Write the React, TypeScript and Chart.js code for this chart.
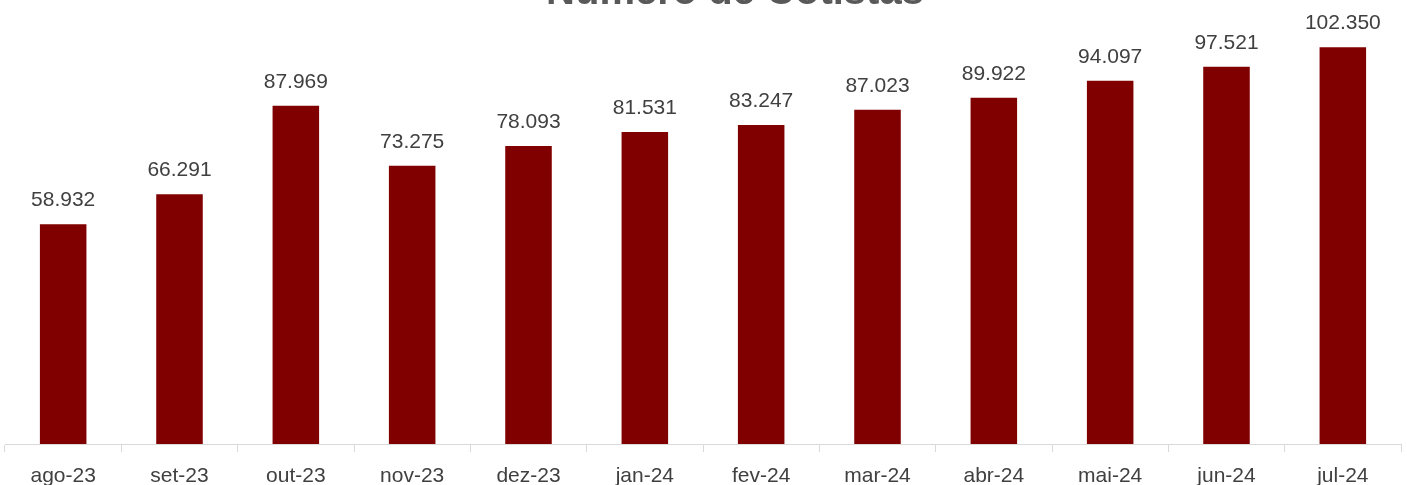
import React, { useEffect, useRef } from "react";
import { Chart, registerables } from "chart.js";

Chart.register(...registerables);

const categories = ["ago-23", "set-23", "out-23", "nov-23", "dez-23", "jan-24", "fev-24", "mar-24", "abr-24", "mai-24", "jun-24", "jul-24"];
const cotistas = [58932, 66291, 87969, 73275, 78093, 81531, 83247, 87023, 89922, 94097, 97521, 102350];
const titleText = "Número de Cotistas";

const FONT = "'Liberation Sans', Arial, sans-serif";

function fmt(v: number): string {
  return v.toLocaleString("pt-BR").replace(/,/g, ".");
}

const labelPlugin = {
  id: "barLabels",
  afterDatasetsDraw(chart: any) {
    const ctx = chart.ctx;
    const meta = chart.getDatasetMeta(0);
    ctx.save();
    ctx.font = `21px ${FONT}`;
    ctx.fillStyle = "#404040";
    ctx.textAlign = "center";
    ctx.textBaseline = "alphabetic";
    meta.data.forEach((bar: any, i: number) => {
      ctx.fillText(fmt(cotistas[i]), bar.x, bar.y - 18);
    });
    ctx.restore();
  },
};

const titlePlugin = {
  id: "cutTitle",
  afterDraw(chart: any) {
    const ctx = chart.ctx;
    ctx.save();
    ctx.font = `bold 40px ${FONT}`;
    ctx.fillStyle = "#595959";
    ctx.textAlign = "center";
    ctx.textBaseline = "alphabetic";
    ctx.fillText(titleText, 735, 4);
    ctx.restore();
  },
};

export default function App() {
  const ref = useRef<HTMLCanvasElement | null>(null);
  useEffect(() => {
    if (!ref.current) return;
    const chart = new Chart(ref.current, {
      type: "bar",
      data: {
        labels: categories,
        datasets: [
          {
            data: cotistas,
            backgroundColor: "#800000",
            categoryPercentage: 1,
            barPercentage: 0.4,
          },
        ],
      },
      options: {
        animation: false,
        responsive: false,
        maintainAspectRatio: false,
        layout: { padding: { left: 5, right: 6, top: 16, bottom: 0 } },
        plugins: { legend: { display: false }, tooltip: { enabled: false }, title: { display: false } },
        scales: {
          x: {
            grid: { display: true, offset: true, drawOnChartArea: false, drawTicks: true, tickLength: 8, color: "#d9d9d9" },
            border: { display: true, color: "#d9d9d9", width: 1 },
            ticks: { color: "#404040", font: { size: 21, family: FONT }, padding: 12, maxRotation: 0, autoSkip: false },
            afterFit(scale: any) {
              scale.height = 41;
            },
          },
          y: {
            display: false,
            min: 5000,
            max: 110000,
          },
        },
      },
      plugins: [labelPlugin, titlePlugin],
    });
    return () => chart.destroy();
  }, []);
  return (
    <div style={{ position: "fixed", top: 0, left: 0, width: 1407, height: 485, background: "#ffffff" }}>
      <canvas ref={ref} width={1407} height={485} style={{ display: "block" }} />
    </div>
  );
}
